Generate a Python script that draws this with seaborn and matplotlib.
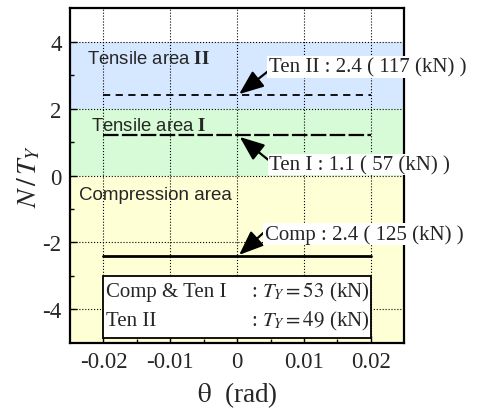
import numpy as np
import pandas as pd
import matplotlib.pyplot as plt
import seaborn as sns
from matplotlib.patches import Rectangle

sns.set_style("ticks")
plt.rcParams['font.family'] = ['Liberation Serif', 'DejaVu Serif']
plt.rcParams['mathtext.fontset'] = 'stix'
plt.rcParams['axes.unicode_minus'] = False

# levels (N / T_Y)
case_names = ['Ten II', 'Ten I', 'Comp']
case_levels = [2.4, 1.2, -2.4]
theta_range = [-0.02, 0.02]
label_texts = ['Ten II : 2.4 ( 117 (kN) )', 'Ten I : 1.1 ( 57 (kN) )', 'Comp : 2.4 ( 125 (kN) )']

# region bands
band_names = ['Compression area', r'Tensile area $\mathbf{I}$', r'Tensile area $\mathbf{II}$']
band_lo = [-5, 0, 2]
band_hi = [0, 2, 4]
band_colors = ['#FFFFD6', '#D6FBD6', '#D6E8FF']

legend_rows = [('Comp & Ten I', r': $T_Y = 53$ (kN)'), ('Ten II', r': $T_Y = 49$ (kN)')]

rows = []
for name, lev in zip(case_names, case_levels):
    for t in theta_range:
        rows.append({'case': name, 'theta': t, 'N': lev})
df = pd.DataFrame(rows)

fig = plt.figure(figsize=(4.8, 4.1), dpi=100)
ax = fig.add_axes([0.146, 0.161, 0.696, 0.817])

for lo, hi, c in zip(band_lo, band_hi, band_colors):
    ax.axhspan(lo, hi, color=c, zorder=0, lw=0)

styles = {'Ten II': dict(ls=(0, (4, 3)), lw=1.3),
          'Ten I': dict(ls=(0, (7, 1.5)), lw=1.6),
          'Comp': dict(ls='-', lw=2.0)}
for name in case_names:
    sub = df[df['case'] == name]
    sns.lineplot(data=sub, x='theta', y='N', ax=ax, color='k', zorder=3, **styles[name])

ax.set_xlim(-0.025, 0.025)
ax.set_ylim(-5, 5)
ax.set_xticks([-0.02, -0.01, 0, 0.01, 0.02])
ax.set_xticklabels(['-0.02', '-0.01', '0', '0.01', '0.02'])
ax.set_yticks([-4, -2, 0, 2, 4])
ax.set_xticks(np.arange(-0.02, 0.0201, 0.005), minor=True)
ax.set_yticks([-3, -1, 1, 3], minor=True)
ax.tick_params(which='both', direction='in', labelsize=16.5, color='k')
ax.tick_params(which='major', length=5, width=1, pad=6)
ax.tick_params(which='minor', length=3, width=1)
ax.grid(True, which='major', ls=':', color='k', lw=0.8, zorder=1)
ax.set_axisbelow(False)
for s in ax.spines.values():
    s.set_linewidth(1.6)
    s.set_color('k')

ax.set_xlabel(r'$\mathrm{\theta}$  (rad)', fontsize=19.5, labelpad=5)
ax.set_ylabel(r'$N\,/\,T_Y$', fontsize=20, labelpad=0)

# area labels
sans = ['Liberation Sans', 'DejaVu Sans']
ax.text(-0.0225, 3.5, band_names[2], family=sans, fontsize=13.3, va='center', zorder=4)
ax.text(-0.0219, 1.5, band_names[1], family=sans, fontsize=13.3, va='center', zorder=4)
ax.text(-0.0237, -0.57, band_names[0], family=sans, fontsize=13.5, va='center', zorder=4)

# annotations
ann = [((0.0003, 2.43), (0.0047, 3.24), (0, 0.3)),
       ((0.0004, 1.15), (0.0048, 0.33), (0, 0.7)),
       ((0.0003, -2.37), (0.0041, -1.74), (0, 0.6))]
for txt, (tip, pos, rp) in zip(label_texts, ann):
    ax.annotate(txt, xy=tip, xytext=pos, fontsize=15, ha='left', va='center',
                annotation_clip=False, zorder=6,
                bbox=dict(boxstyle='square,pad=0.05', fc='white', ec='none'),
                arrowprops=dict(arrowstyle='-|>,head_length=1.0,head_width=0.4', color='k',
                                lw=1.6, relpos=rp, shrinkA=0, shrinkB=0))

# legend box
ax.add_patch(Rectangle((-0.02, -4.86), 0.04, 1.86, fc='white', ec='k', lw=1.3, zorder=5))
for i, (a, b) in enumerate(legend_rows):
    yy = -3.45 - 0.87 * i
    ax.text(-0.0196, yy, a, fontsize=15, va='center', zorder=6)
    ax.text(0.0021, yy, b, fontsize=15, va='center', zorder=6)

plt.savefig('out.png', dpi=100)
